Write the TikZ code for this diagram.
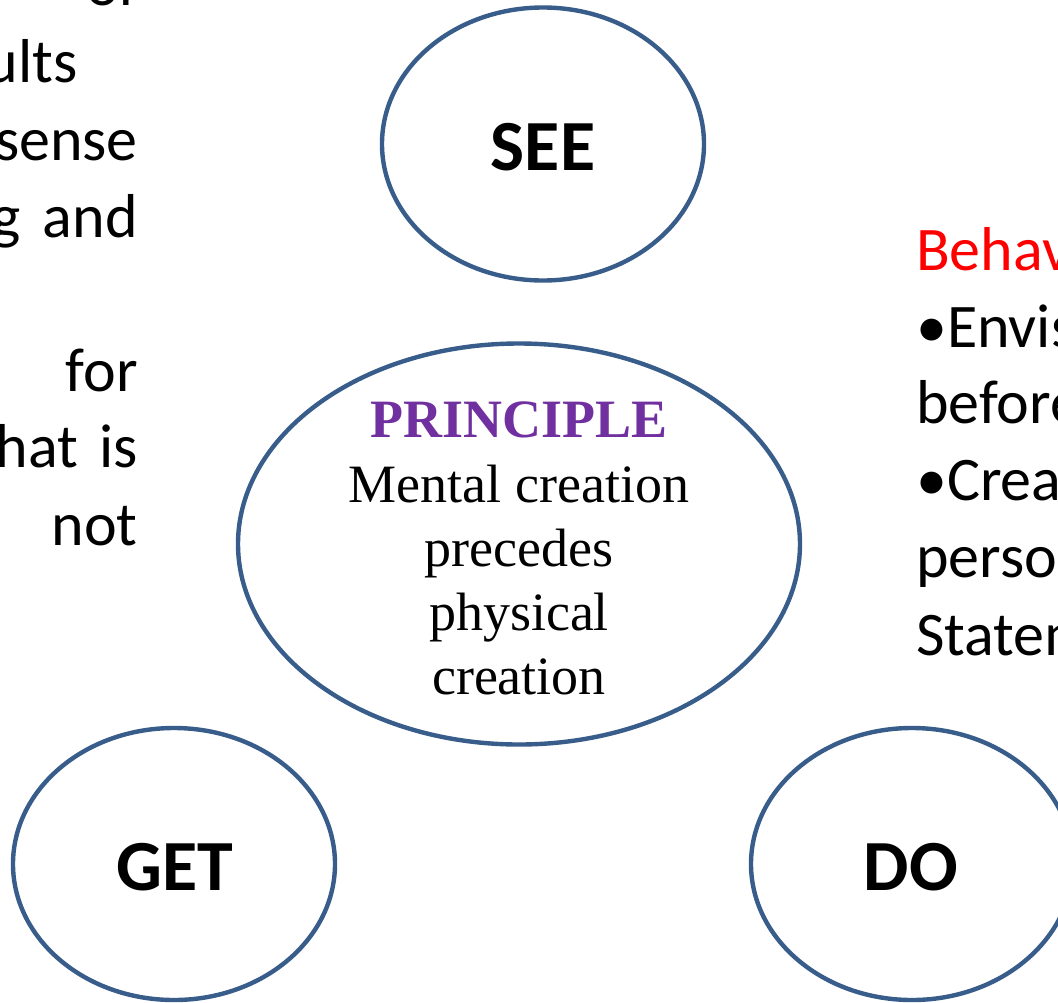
\documentclass[tikz,border=0pt]{standalone}
\usepackage{fontspec}
\setmainfont{Carlito}
\newfontfamily\tnr{Liberation Serif}
\usetikzlibrary{shapes.geometric}
\definecolor{ringblue}{RGB}{56,93,138}
\definecolor{princpurple}{RGB}{112,48,160}
\definecolor{behred}{RGB}{255,0,0}
\tikzset{
  ring/.style={ellipse, draw=ringblue, line width=4.4pt, inner sep=0pt},
  bigword/.style={font=\fontsize{72}{80}\selectfont\bfseries, inner sep=0pt, anchor=base},
  sidetext/.style={font=\fontsize{62}{74}\selectfont, inner sep=0pt},
  sertext/.style={font=\tnr\fontsize{54}{64}\selectfont, inner sep=0pt, anchor=base},
}
\begin{document}
\begin{tikzpicture}[x=1pt,y=-1pt]
\useasboundingbox (0,0) rectangle (1058,1002);
\clip (0,0) rectangle (1058,1002);
\fill[white] (0,0) rectangle (1058,1002);

% left text (cropped)
\node[sidetext, anchor=base east] (l1) at (138,5) {of};
\node[sidetext, anchor=base east] (l2) at (78,82) {ults};
\node[sidetext, anchor=base east] (l3) at (138,160) {sense};
\node[sidetext, anchor=base east] (l4) at (138,237) {g\hspace{0.36em}and};
\node[sidetext, anchor=base east] (l5) at (138,391) {for};
\node[sidetext, anchor=base east] (l6) at (138,467) {hat\hspace{0.34em}is};
\node[sidetext, anchor=base east] (l7) at (138,545) {not};

% right text (cropped)
\node[sidetext, anchor=base west, text=behred] (r1) at (916,270) {Behav};
\node[sidetext, anchor=base west] (r2) at (916,347) {•Envis};
\node[sidetext, anchor=base west] (r3) at (916,423) {before};
\node[sidetext, anchor=base west] (r4) at (916,500) {•Creat};
\node[sidetext, anchor=base west] (r5) at (916,577) {perso};
\node[sidetext, anchor=base west] (r6) at (916,655) {Statem};

% ellipses
\node[ring, minimum width=322pt, minimum height=273pt] (see) at (543,144) {};
\node[bigword] (seet) at (543,170) {SEE};

\node[ring, minimum width=562pt, minimum height=401pt] (principle) at (519,544) {};
\node[sertext, text=princpurple, font=\tnr\fontsize{54}{64}\selectfont\bfseries] (p1) at (519,437) {PRINCIPLE};
\node[sertext] (p2) at (519,502) {Mental creation};
\node[sertext] (p3) at (519,566) {precedes};
\node[sertext] (p4) at (519,630) {physical};
\node[sertext] (p5) at (519,694) {creation};

\node[ring, minimum width=322pt, minimum height=272pt] (get) at (174,864) {};
\node[bigword] (gett) at (175,890) {GET};

\node[ring, minimum width=322pt, minimum height=272pt] (do) at (912,864) {};
\node[bigword] (dot) at (911,890) {DO};
\end{tikzpicture}
\end{document}
